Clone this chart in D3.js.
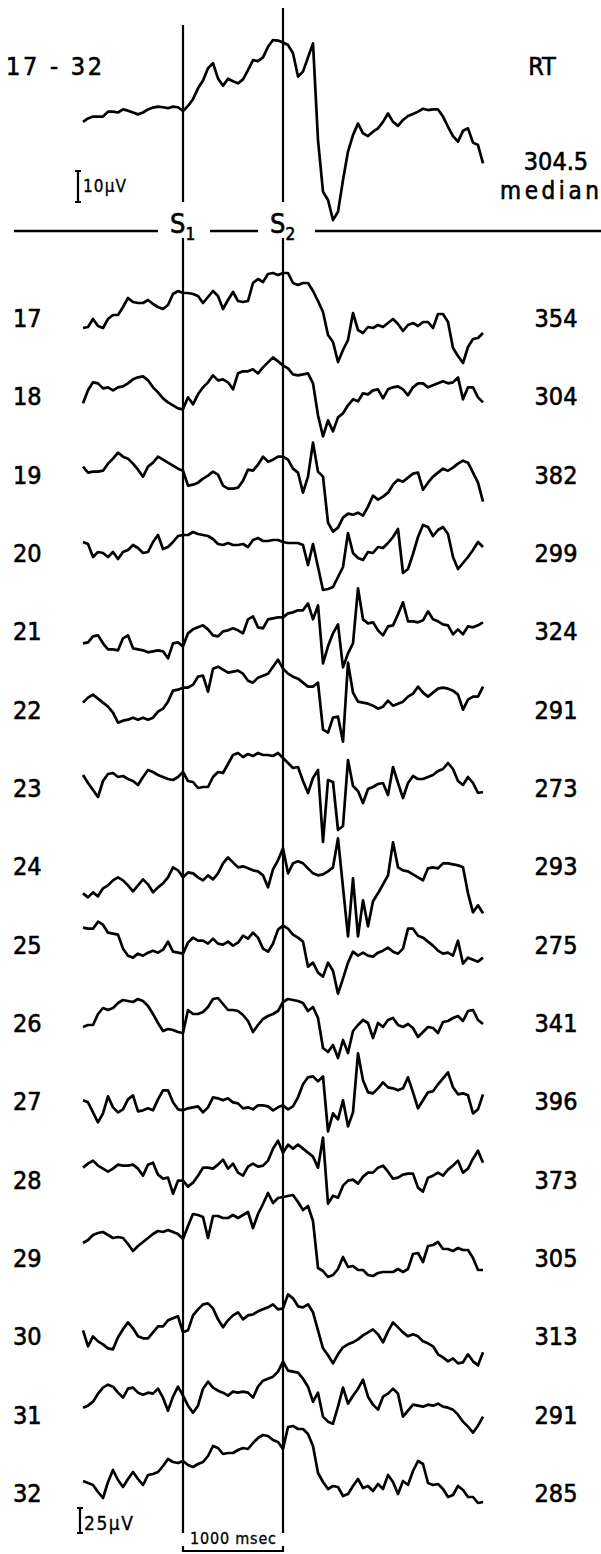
<!DOCTYPE html>
<html>
<head>
<meta charset="utf-8">
<script src="https://cdn.jsdelivr.net/npm/d3@7"></script>
<style>
  body { margin: 0; background: #fff; }
  svg text { font-family: "DejaVu Sans Condensed", "DejaVu Sans", sans-serif; fill: #000; stroke: #000; stroke-width: 0.6px; }
</style>
</head>
<body>
<div id="chart"></div>
<script>
// Trials and their reaction times (msec)
const trials = [17, 18, 19, 20, 21, 22, 23, 24, 25, 26, 27, 28, 29, 30, 31, 32];
const rtValues = [354, 304, 382, 299, 324, 291, 273, 293, 275, 341, 396, 373, 305, 313, 291, 285];
const medianRT = "304.5";

// Sampling grid of the traces, msec relative to S1
const sampleTimes = d3.range(-1000, 3001, 50);

// Stimulus markers
const stimuli = [{ name: "S", sub: "1", t: 0 }, { name: "S", sub: "2", t: 1000 }];

// Average of trials 17 - 32 (μV, up = positive)
const averageTrace = [-2.2, -1.1, -0.5, -0.5, -0.5, 1.1, 1.1, 0.8, 1.8, 1.4,
  0.8, 0.2, 0.8, 1.8, 2.4, 2.7, 2.5, 2.2, 2.7, 2.5,
  1.3, 2.9, 5.1, 8.6, 11.1, 15.1, 16.7, 11.8, 9.4, 11.7,
  10.9, 10.2, 11.5, 14.5, 17.7, 17.4, 18.6, 22.0, 24.2, 24.0,
  23.4, 22.6, 19.9, 12.4, 14.0, 18.6, 23.1, -8.1, -24.7, -27.4,
  -33.9, -31.2, -21.0, -11.8, -6.5, -2.7, -5.9, -6.8, -5.4, -4.3,
  -2.2, 0.5, -2.2, -3.5, -1.6, -0.3, 0.3, 1.1, 2.0, 1.6,
  1.8, 1.8, -0.5, -3.8, -6.8, -8.6, -5.1, -4.3, -8.9, -9.7,
  -15.6];

// Single trials (μV, up = positive)
const trace17 = [-10, -9, -1, -8, -10, -1, 3, 3, 11, 20, 16, 15, 15, 18, 14, 11, 9, 13, 24, 27,
  25, 25, 24, 22, 15, 21, 27, 22, 9, 18, 26, 17, 16, 17, 35, 39, 36, 44, 45, 43,
  45, 45, 35, 33, 35, 35, 27, 17, 6, -17, -24, -44, -32, -22, 5, -12, -15, -9, -10, -7,
  -9, -5, -1, -6, -13, -7, -5, -8, -4, -4, -10, 4, 4, -4, -30, -38, -45, -29, -21, -20, -15];
const trace18 = [-7, 6, 14, 13, 8, 9, 6, 9, 10, 13, 17, 19, 20, 16, 9, 4, -2, -6, -9, -12,
  -13, -1, -8, 2, 9, 14, 21, 16, 17, 14, 7, 23, 25, 25, 27, 23, 29, 34, 39, 35,
  31, 28, 22, 21, 22, 23, 13, -19, -40, -24, -35, -21, -17, -9, -3, -5, 3, 2, 6, 7,
  -2, 7, 9, 10, 7, 1, 9, 13, 13, 9, 11, 13, 15, 13, 14, 19, -3, 9, 9, -1, -6];
const trace19 = [8, 2, 3, 3, 4, 11, 16, 22, 18, 16, 11, 5, -2, 8, 12, 18, 15, 12, 9, 6,
  4, -11, -10, -8, -4, -1, 3, 0, -11, -14, -14, -13, -6, 5, 4, 10, 18, 13, 15, 18,
  18, 15, 6, 2, -18, -2, 32, 3, -2, -48, -57, -53, -43, -39, -40, -38, -41, -32, -21, -25,
  -22, -18, -10, -5, -7, -3, 1, 2, -15, -8, -2, 2, 6, 4, 7, 11, 14, 12, 2, -8, -27];
const trace20 = [11, 9, -4, 1, 0, -4, 1, -6, 1, 3, 8, 5, 0, 1, 11, 18, 4, 6, 11, 17,
  18, 18, 21, 19, 18, 17, 14, 9, 8, 10, 8, 8, 9, 6, 13, 15, 12, 12, 13, 13,
  11, 10, 10, 10, 8, -12, 9, -14, -37, -36, -34, -24, -14, 20, 0, -5, -7, 1, 0, 6,
  5, 10, 16, 24, -20, -16, -1, 16, 28, 26, 17, 23, 26, 19, -4, -16, -10, -4, 3, 11, 6];
const trace21 = [-12, -11, -5, -4, -12, -18, -18, -19, -7, -4, -17, -18, -19, -21, -20, -19, -20, -27, -12, -11,
  -15, -2, 2, 4, 6, 2, -4, -5, 0, 1, 3, 1, -2, 12, 15, 4, 3, 12, 13, 14,
  14, 18, 19, 21, 21, 28, 12, 26, -32, -15, -2, 7, -36, -22, -12, 43, 12, 8, 9, 1,
  -4, 5, 6, 17, 29, 10, 10, 9, 11, 20, 12, 10, 7, 6, -3, 2, -3, 5, 4, 6, 9];
const trace22 = [7, 12, 15, 11, 7, 3, -3, -13, -11, -10, -8, -10, -8, -10, -8, -2, 1, 8, 19, 20,
  22, 22, 25, 33, 34, 18, 41, 43, 40, 37, 38, 39, 36, 29, 27, 32, 34, 36, 43, 50,
  41, 36, 33, 31, 27, 23, 23, 27, -20, -23, -8, -7, -32, 47, 17, 8, 7, 6, 4, 1,
  3, 9, 4, 6, 8, 13, 16, 23, 17, 13, 17, 21, 22, 21, 19, 15, 0, 10, 13, 13, 23];
const trace23 = [13, 5, -2, -9, 7, 14, 15, 11, 12, 9, 7, 3, 11, 18, 16, 13, 11, 9, 8, 11,
  16, 7, 6, 0, 1, 1, 11, 16, 15, 24, 33, 35, 31, 34, 32, 35, 33, 33, 32, 35,
  30, 25, 20, 21, 7, -5, 10, 18, -54, 8, 6, -42, -38, 28, 2, -3, -15, -1, 1, 4,
  5, -7, 21, 5, -10, 5, 12, 9, 9, 11, 13, 17, 19, 25, 19, 7, 3, 11, 5, -5, -4];
const trace24 = [-27, -31, -26, -30, -22, -19, -14, -11, -14, -19, -25, -19, -13, -18, -26, -21, -17, -11, -1, -4,
  -11, -6, -7, -11, -14, -9, -13, -7, 3, 9, 4, -1, 0, -2, -4, -5, -9, -21, -3, 6,
  18, -7, 3, 5, 3, -2, -7, -9, -8, -5, -1, 28, -21, -70, -12, -70, -34, -60, -35, -27,
  -18, -9, 24, -1, -4, -5, -8, -11, -14, -2, -1, -2, 3, 3, 2, 1, -1, -27, -46, -39, -47];
const trace25 = [17, 16, 16, 23, 20, 12, 11, 10, -4, -11, -13, -9, -11, -8, -6, -8, -5, 3, -7, -8,
  -9, 2, 7, 4, 4, 1, 6, 1, 0, 3, -1, 2, 9, 6, 12, 7, -4, -7, 1, 15,
  19, 16, 10, 7, 3, -22, -18, -28, -32, -18, -26, -49, -34, -18, -7, -11, -8, -11, -12, -8,
  -6, -3, -7, -9, -4, 16, 16, 9, 7, 3, -1, -6, -9, -8, -11, 4, -19, -13, -15, -17, -13];
const trace26 = [-4, -2, -2, 9, 15, 13, 15, 20, 23, 22, 21, 24, 22, 17, 9, 0, -8, -6, -7, -9,
  -10, 13, 9, 9, 11, 16, 24, 25, 19, 13, 13, 12, 8, 2, -9, -2, 4, 7, 9, 12,
  21, 24, 23, 22, 20, 12, 16, 5, -25, -29, -22, -35, -17, -30, -8, -2, 3, 0, -15, 0,
  -4, 3, 5, -2, -4, -1, -5, -14, -9, -4, -5, -10, 1, 2, 5, 7, 2, 12, 13, 3, -1];
const trace27 = [1, -1, -11, -21, -12, 5, -6, -11, -8, 2, 6, -10, -9, -7, -9, 2, 11, 11, -1, -8,
  -9, -7, -6, -5, -11, -6, 4, 3, 1, 3, -1, -2, -7, -6, -8, -4, -4, -5, -9, -6,
  -4, -8, -5, 4, 17, 24, 25, 20, 25, -30, -12, -18, 1, -25, -11, 48, 21, 9, 8, 13,
  19, 14, 13, 11, 13, 24, 9, -7, 1, 9, 10, 17, 23, 29, 14, 7, 8, 6, -12, -8, 7];
const trace28 = [12, 16, 19, 14, 11, 8, 11, 15, 14, 14, 15, 11, 4, 15, 17, 5, 1, 2, -14, -1,
  -1, -7, -3, 4, 12, 12, 11, 15, 20, 11, 16, 7, 4, 13, 16, 13, 14, 19, 31, 39,
  27, 35, 31, 35, 31, 27, 23, 12, 42, -24, -16, -18, -6, -1, 0, -4, 3, 7, 7, 12,
  14, 8, 1, 2, 5, 6, 6, -8, -12, 2, 4, 7, 4, 10, 14, 19, 7, 11, 21, 29, 17];
const trace29 = [15, 18, 23, 25, 26, 23, 20, 21, 20, 14, 7, 12, 16, 20, 24, 27, 26, 28, 26, 24,
  19, 32, 44, 43, 41, 20, 42, 42, 40, 40, 43, 40, 43, 46, 30, 44, 54, 65, 55, 60,
  61, 62, 63, 56, 48, 52, 37, -10, -13, -19, -17, -11, 1, -9, -8, -12, -12, -17, -18, -15,
  -14, -14, -14, -11, -14, -11, 4, 5, -4, 12, 13, 16, 9, 9, 7, 10, 8, 8, 0, -12, -12];
const trace30 = [6, -10, 0, -5, -8, -12, -13, -1, 7, 14, 8, 0, -2, -2, 4, 10, 10, 16, 18, 20,
  4, 6, 21, 27, 32, 33, 28, 17, 9, 16, 21, 24, 17, 21, 22, 25, 27, 29, 32, 27,
  28, 42, 38, 30, 29, 32, 24, 6, -12, -19, -27, -18, -11, -8, -6, -3, 1, 4, 7, 2,
  -6, 5, 14, 9, 4, 0, 2, 0, -5, -7, -10, -18, -21, -25, -22, -27, -26, -18, -25, -29, -16];
const trace31 = [7, 9, 13, 21, 27, 30, 28, 22, 17, 26, 27, 22, 20, 22, 21, 26, 17, 4, 18, 28,
  19, 9, 2, 9, 26, 33, 27, 24, 22, 19, 23, 22, 23, 22, 17, 28, 34, 36, 38, 43,
  53, 44, 43, 42, 36, 28, 13, 22, -2, -7, -9, 8, 27, 11, 19, 26, 35, 18, 10, 5,
  18, 21, 26, 21, -2, 4, 10, 9, 8, 10, 9, 11, 8, 7, 5, 0, -7, -12, -18, -11, -2];
const trace32 = [12, 10, 8, 1, -5, 11, 23, 13, 6, 14, 21, 14, 8, 18, 19, 21, 27, 34, 31, 30,
  32, 28, 26, 29, 31, 37, 47, 45, 39, 40, 40, 43, 45, 44, 50, 55, 58, 57, 53, 51,
  44, 66, 67, 64, 64, 59, 47, 20, 11, 4, 7, 6, -3, -1, 7, 14, 5, 7, 2, 9,
  4, 18, 11, -1, 12, 8, 22, 32, 29, 10, 8, 9, 4, -4, -2, 7, 3, -4, -4, -10, -9];

const singleTraces = [trace17, trace18, trace19, trace20, trace21, trace22, trace23, trace24,
  trace25, trace26, trace27, trace28, trace29, trace30, trace31, trace32];

singleTraces.concat([averageTrace]).forEach((tr, i) => {
  if (tr.length !== sampleTimes.length) console.warn("trace length", i, tr.length);
});

// Set up the drawing
const width = 601;
const height = 1554;

const svg = d3.select("#chart")
  .append("svg")
  .attr("width", width)
  .attr("height", height)
  .style("background", "#fff");

// Scales
const xScale = d3.scaleLinear().domain([-1000, 3000]).range([83, 483]);
const rowScale = d3.scalePoint().domain(trials).range([318, 1493]);
const avgAmp = d3.scaleLinear().domain([0, 10]).range([0, -31]);
const trialAmp = d3.scaleLinear().domain([0, 25]).range([0, -25]);

const avgBaseline = 115;
const dividerY = 231;
const traceWidth = 2.7;

// Stimulus lines (interrupted at the divider where the labels sit)
const stimTop = { 0: 25, 1000: 8 };
stimuli.forEach(s => {
  const sx = xScale(s.t);
  svg.append("line")
    .attr("x1", sx).attr("x2", sx)
    .attr("y1", stimTop[s.t]).attr("y2", 202)
    .attr("stroke", "#000").attr("stroke-width", 2.2);
  svg.append("line")
    .attr("x1", sx).attr("x2", sx)
    .attr("y1", 238).attr("y2", 1533)
    .attr("stroke", "#000").attr("stroke-width", 2.2);

  const lab = svg.append("text")
    .attr("x", sx - 13)
    .attr("y", 233)
    .style("font-size", "27px")
    .text(s.name);
  lab.append("tspan")
    .attr("dy", 7)
    .style("font-size", "17px")
    .text(s.sub);
});

// Divider line with gaps for the S labels
const dividerSegments = [[14, 158], [210, 258], [315, 601]];
svg.selectAll(".divider")
  .data(dividerSegments)
  .enter()
  .append("line")
  .attr("class", "divider")
  .attr("x1", d => d[0]).attr("x2", d => d[1])
  .attr("y1", dividerY).attr("y2", dividerY)
  .attr("stroke", "#000")
  .attr("stroke-width", 2.5);

// Average trace
const avgLine = d3.line()
  .x((d, i) => xScale(sampleTimes[i]))
  .y(d => avgBaseline + avgAmp(d));

svg.append("path")
  .datum(averageTrace)
  .attr("fill", "none")
  .attr("stroke", "#000")
  .attr("stroke-width", traceWidth)
  .attr("stroke-linejoin", "round")
  .attr("d", avgLine);

svg.append("text")
  .attr("x", 6)
  .attr("y", 75)
  .style("font-size", "25px")
  .attr("textLength", 96)
  .text(`${trials[0]} - ${trials[trials.length - 1]}`);

svg.append("text")
  .attr("x", 542)
  .attr("y", 75)
  .attr("text-anchor", "middle")
  .style("font-size", "25px")
  .text("RT");

svg.append("text")
  .attr("x", 556)
  .attr("y", 170)
  .attr("text-anchor", "middle")
  .style("font-size", "25px")
  .text(medianRT);

svg.append("text")
  .attr("x", 500)
  .attr("y", 199)
  .style("font-size", "24px")
  .attr("textLength", 99)
  .text("median");

// Calibration bars
function calBar(x, yBottom, h) {
  svg.append("path")
    .attr("d", `M${x - 3},${yBottom - h}H${x + 3}M${x},${yBottom - h}V${yBottom}M${x - 3},${yBottom}H${x + 3}`)
    .attr("fill", "none")
    .attr("stroke", "#000")
    .attr("stroke-width", 2.2);
}
calBar(78, 202, -avgAmp(10));
svg.append("text")
  .attr("x", 83).attr("y", 192)
  .style("font-size", "17px")
  .style("stroke-width", "0.3px")
  .attr("textLength", 43)
  .text("10μV");

calBar(80, 1533, -trialAmp(25));
svg.append("text")
  .attr("x", 84).attr("y", 1530)
  .style("font-size", "19px")
  .style("stroke-width", "0.3px")
  .attr("textLength", 49)
  .text("25μV");

// Single trials
const trialLine = d3.line()
  .x((d, i) => xScale(sampleTimes[i]))
  .y(d => trialAmp(d));

const rows = svg.selectAll(".trial")
  .data(trials)
  .enter()
  .append("g")
  .attr("class", "trial")
  .attr("transform", d => `translate(0,${rowScale(d)})`);

rows.append("path")
  .datum((d, i) => singleTraces[i])
  .attr("fill", "none")
  .attr("stroke", "#000")
  .attr("stroke-width", traceWidth)
  .attr("stroke-linejoin", "round")
  .attr("d", trialLine);

rows.append("text")
  .attr("x", 13)
  .attr("y", 9)
  .style("font-size", "25px")
  .text(d => d);

rows.append("text")
  .attr("x", 556)
  .attr("y", 9)
  .attr("text-anchor", "middle")
  .style("font-size", "25px")
  .text((d, i) => rtValues[i]);

// Time calibration
const x0 = xScale(0), x1 = xScale(1000);
svg.append("path")
  .attr("d", `M${x0},1546V1551H${x1}V1546`)
  .attr("fill", "none")
  .attr("stroke", "#000")
  .attr("stroke-width", 2.2);

svg.append("text")
  .attr("x", (x0 + x1) / 2)
  .attr("y", 1544)
  .attr("text-anchor", "middle")
  .style("font-size", "16px")
  .style("stroke-width", "0.3px")
  .attr("textLength", 86)
  .text("1000 msec");
</script>
</body>
</html>
